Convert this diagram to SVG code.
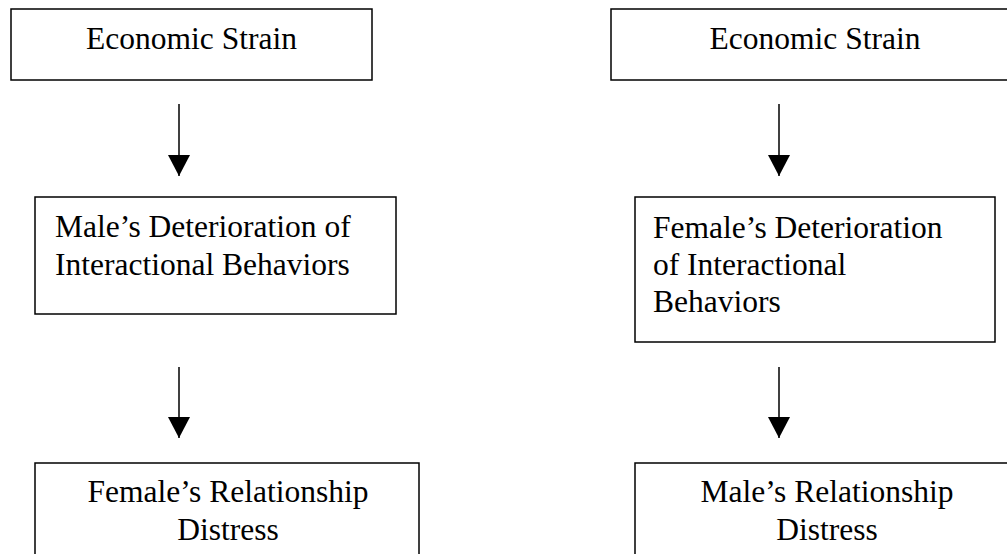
<svg xmlns="http://www.w3.org/2000/svg" width="1007" height="554" viewBox="0 0 1007 554">
<style>
.box{fill:#fff;stroke:#000;stroke-width:1.5}
.t{font-family:"Liberation Serif","Times New Roman",serif;font-size:31.5px;fill:#000}
.c{text-anchor:middle}
.edge{stroke:#000;stroke-width:1.5;fill:none}
</style>
<defs>
<marker id="arr" markerUnits="userSpaceOnUse" markerWidth="22" markerHeight="22" refX="21" refY="11" orient="auto">
<path d="M0,0 L21,11 L0,22 Z" fill="#000"/>
</marker>
</defs>
<rect width="1007" height="554" fill="#fff"/>
<g id="connectors">
<line class="edge" x1="179" y1="104" x2="179" y2="176" marker-end="url(#arr)"/>
<line class="edge" x1="179" y1="367" x2="179" y2="438" marker-end="url(#arr)"/>
<line class="edge" x1="779" y1="104" x2="779" y2="176" marker-end="url(#arr)"/>
<line class="edge" x1="779" y1="367" x2="779" y2="438" marker-end="url(#arr)"/>
</g>
<g id="node-left-strain">
<rect class="box" x="11" y="9" width="361" height="71"/>
<text class="t c" x="191.5" y="49">Economic Strain</text>
</g>
<g id="node-left-deterioration">
<rect class="box" x="35" y="197" width="361" height="117"/>
<text class="t" x="55" y="237">Male’s Deterioration of</text>
<text class="t" x="55" y="275">Interactional Behaviors</text>
</g>
<g id="node-left-distress">
<rect class="box" x="35" y="463" width="384" height="110"/>
<text class="t c" x="228" y="502">Female’s Relationship</text>
<text class="t c" x="228" y="540">Distress</text>
</g>
<g id="node-right-strain">
<rect class="box" x="611" y="9" width="410" height="71"/>
<text class="t c" x="815" y="49">Economic Strain</text>
</g>
<g id="node-right-deterioration">
<rect class="box" x="635" y="197" width="360" height="145"/>
<text class="t" x="653" y="238">Female’s Deterioration</text>
<text class="t" x="653" y="275">of Interactional</text>
<text class="t" x="653" y="312">Behaviors</text>
</g>
<g id="node-right-distress">
<rect class="box" x="635" y="463" width="384" height="110"/>
<text class="t c" x="827" y="502">Male’s Relationship</text>
<text class="t c" x="827" y="540">Distress</text>
</g>
</svg>
